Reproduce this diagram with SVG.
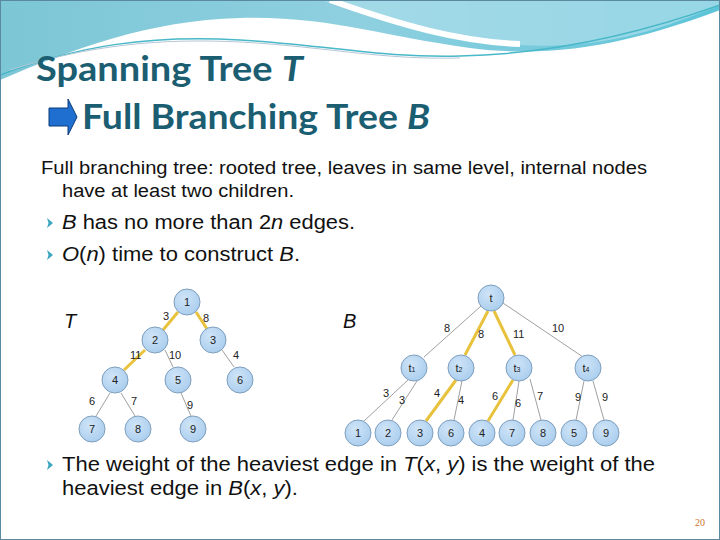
<svg xmlns="http://www.w3.org/2000/svg" width="720" height="540" viewBox="0 0 720 540">
<defs>
<linearGradient id="hg" x1="0" y1="0" x2="1" y2="0">
<stop offset="0" stop-color="#7cc6d6"/><stop offset="0.5" stop-color="#8fd0e0"/><stop offset="1" stop-color="#5cc4d8"/>
</linearGradient>
<radialGradient id="ng" cx="0.4" cy="0.35" r="0.7">
<stop offset="0" stop-color="#cfe4f7"/><stop offset="1" stop-color="#a9cdee"/>
</radialGradient>
<g id="bul"><path d="M0,-5 L6,0 L0,5 L1.5,0 Z" fill="#3aa7be"/></g>
</defs>
<style>
.n{fill:url(#ng);stroke:#7f9fbd;stroke-width:1}
.nt{font-family:"Liberation Sans",Arial,sans-serif;font-size:11px;fill:#222;text-anchor:middle}
.e{stroke:#888;stroke-width:0.8;fill:none}
.y{stroke:#e8c23c;stroke-width:3;fill:none}
.el{font-family:"Liberation Sans",Arial,sans-serif;font-size:11px;fill:#222}
.body{font-family:"Liberation Sans",Arial,sans-serif;fill:#111}
.ttl{font-family:Lato,"Open Sans",sans-serif;font-weight:bold;fill:#1b5e72}
</style>
<rect width="720" height="540" fill="#fff"/>
<path d="M0,0 H720 V10 C640,40 560,60 470,48 C380,36 330,16 240,18 C150,20 70,50 0,80 Z" fill="url(#hg)"/>
<path d="M320,0 C380,20 450,40 520,45 C600,50 660,30 720,5 V0 Z" fill="#a6dbe8" opacity="0.8"/>
<path d="M330,0 C400,25 460,42 520,44" stroke="#fff" stroke-width="6" fill="none"/>
<path d="M0,75 C80,45 150,35 240,40 C330,45 380,58 460,56 C560,54 650,30 720,5" stroke="#48b8c8" stroke-width="1.5" fill="none"/>
<path d="M10,70 C90,45 160,38 240,42 C330,47 380,60 460,58" stroke="#b6c7d6" stroke-width="1" fill="none"/>
<rect x="0.5" y="0.5" width="719" height="539" fill="none" stroke="#5b8aa0"/>
<text class="ttl" x="36" y="81" font-size="34" textLength="267" lengthAdjust="spacingAndGlyphs">Spanning Tree <tspan font-style="italic">T</tspan></text>
<path d="M49,108 H68 V99 L77,117 L68,135 V126 H49 Z" fill="#1f6fd0" stroke="#0d3a78" stroke-width="1"/>
<text class="ttl" x="82" y="129" font-size="34" textLength="348" lengthAdjust="spacingAndGlyphs">Full Branching Tree <tspan font-style="italic">B</tspan></text>
<text class="body" x="41" y="174" font-size="18" textLength="606" lengthAdjust="spacingAndGlyphs">Full branching tree:  rooted tree, leaves in same level, internal nodes</text>
<text class="body" x="62" y="197" font-size="18" textLength="232" lengthAdjust="spacingAndGlyphs">have at least two children.</text>
<use href="#bul" x="47" y="223"/>
<text class="body" x="62" y="229" font-size="20" textLength="293" lengthAdjust="spacingAndGlyphs"><tspan font-style="italic">B</tspan> has no more than 2<tspan font-style="italic">n</tspan> edges.</text>
<use href="#bul" x="47" y="255"/>
<text class="body" x="62" y="261" font-size="20" textLength="238" lengthAdjust="spacingAndGlyphs"><tspan font-style="italic">O</tspan>(<tspan font-style="italic">n</tspan>) time to construct <tspan font-style="italic">B</tspan>.</text>
<text class="body" x="64" y="328" font-size="20" font-style="italic">T</text>
<text class="body" x="343" y="328" font-size="20" font-style="italic">B</text>
<g id="connectors">
<line class="y" x1="178" y1="312" x2="163" y2="330"/>
<line class="y" x1="196" y1="312" x2="207" y2="329"/>
<line class="y" x1="145" y1="350" x2="124" y2="370"/>
<line class="e" x1="165" y1="350" x2="173" y2="367"/>
<line class="e" x1="222" y1="350" x2="234" y2="367"/>
<line class="e" x1="110" y1="393" x2="96" y2="416"/>
<line class="e" x1="121" y1="393" x2="135" y2="416"/>
<line class="e" x1="181" y1="393" x2="191" y2="416"/>
<line class="e" x1="481" y1="306" x2="424" y2="357"/>
<line class="y" x1="488" y1="311" x2="465" y2="355"/>
<line class="y" x1="494" y1="311" x2="515" y2="355"/>
<line class="e" x1="503" y1="303" x2="583" y2="357"/>
<line class="e" x1="408" y1="380" x2="364" y2="421"/>
<line class="e" x1="417" y1="381" x2="392" y2="420"/>
<line class="y" x1="456" y1="380" x2="426" y2="421"/>
<line class="e" x1="462" y1="381" x2="454" y2="420"/>
<line class="y" x1="513" y1="380" x2="488" y2="421"/>
<line class="e" x1="519" y1="381" x2="513" y2="420"/>
<line class="e" x1="530" y1="379" x2="541" y2="420"/>
<line class="e" x1="584" y1="381" x2="576" y2="420"/>
<line class="e" x1="593" y1="381" x2="604" y2="420"/>
</g>
<g>
<text class="el" x="163" y="320">3</text><text class="el" x="203" y="322">8</text>
<text class="el" x="130" y="359">11</text><text class="el" x="169" y="359">10</text><text class="el" x="233" y="359">4</text>
<text class="el" x="89" y="405">6</text><text class="el" x="131" y="405">7</text><text class="el" x="187" y="409">9</text>
<text class="el" x="444" y="332">8</text><text class="el" x="478" y="338">8</text><text class="el" x="513" y="338">11</text><text class="el" x="552" y="332">10</text>
<text class="el" x="383" y="397">3</text><text class="el" x="399" y="404">3</text><text class="el" x="434" y="397">4</text><text class="el" x="458" y="404">4</text>
<text class="el" x="492" y="400">6</text><text class="el" x="515" y="407">6</text><text class="el" x="537" y="400">7</text><text class="el" x="575" y="401">9</text><text class="el" x="602" y="401">9</text>
</g>
<g id="T1"><circle class="n" cx="187" cy="302" r="13"/><text class="nt" x="187" y="306">1</text></g>
<g id="T2"><circle class="n" cx="155" cy="340" r="13"/><text class="nt" x="155" y="344">2</text></g>
<g id="T3"><circle class="n" cx="213" cy="340" r="13"/><text class="nt" x="213" y="344">3</text></g>
<g id="T4"><circle class="n" cx="115" cy="380" r="13"/><text class="nt" x="115" y="384">4</text></g>
<g id="T5"><circle class="n" cx="178" cy="380" r="13"/><text class="nt" x="178" y="384">5</text></g>
<g id="T6"><circle class="n" cx="240" cy="380" r="13"/><text class="nt" x="240" y="384">6</text></g>
<g id="T7"><circle class="n" cx="92" cy="429" r="13"/><text class="nt" x="92" y="433">7</text></g>
<g id="T8"><circle class="n" cx="138" cy="429" r="13"/><text class="nt" x="138" y="433">8</text></g>
<g id="T9"><circle class="n" cx="193" cy="429" r="13"/><text class="nt" x="193" y="433">9</text></g>
<g id="Bt"><circle class="n" cx="491" cy="298" r="13"/><text class="nt" x="491" y="302">t</text></g>
<g id="Bt1"><circle class="n" cx="414" cy="368" r="13"/><text class="nt" x="412" y="372">t<tspan font-size="7">1</tspan></text></g>
<g id="Bt2"><circle class="n" cx="461" cy="368" r="13"/><text class="nt" x="459" y="372">t<tspan font-size="7">2</tspan></text></g>
<g id="Bt3"><circle class="n" cx="519" cy="368" r="13"/><text class="nt" x="517" y="372">t<tspan font-size="7">3</tspan></text></g>
<g id="Bt4"><circle class="n" cx="588" cy="368" r="13"/><text class="nt" x="586" y="372">t<tspan font-size="7">4</tspan></text></g>
<g id="L1"><circle class="n" cx="358" cy="433" r="13"/><text class="nt" x="358" y="437">1</text></g>
<g id="L2"><circle class="n" cx="388" cy="433" r="13"/><text class="nt" x="388" y="437">2</text></g>
<g id="L3"><circle class="n" cx="420" cy="433" r="13"/><text class="nt" x="420" y="437">3</text></g>
<g id="L6"><circle class="n" cx="451" cy="433" r="13"/><text class="nt" x="451" y="437">6</text></g>
<g id="L4"><circle class="n" cx="482" cy="433" r="13"/><text class="nt" x="482" y="437">4</text></g>
<g id="L7"><circle class="n" cx="512" cy="433" r="13"/><text class="nt" x="512" y="437">7</text></g>
<g id="L8"><circle class="n" cx="543" cy="433" r="13"/><text class="nt" x="543" y="437">8</text></g>
<g id="L5"><circle class="n" cx="574" cy="433" r="13"/><text class="nt" x="574" y="437">5</text></g>
<g id="L9"><circle class="n" cx="606" cy="433" r="13"/><text class="nt" x="606" y="437">9</text></g>
<use href="#bul" x="47" y="465"/>
<text class="body" x="62" y="471" font-size="20" textLength="593" lengthAdjust="spacingAndGlyphs">The weight of the heaviest edge in <tspan font-style="italic">T</tspan>(<tspan font-style="italic">x</tspan>, <tspan font-style="italic">y</tspan>) is the weight of the</text>
<text class="body" x="62" y="495" font-size="20" textLength="236" lengthAdjust="spacingAndGlyphs">heaviest edge in <tspan font-style="italic">B</tspan>(<tspan font-style="italic">x</tspan>, <tspan font-style="italic">y</tspan>).</text>
<text x="700" y="526" font-family="Liberation Serif,serif" font-size="10" fill="#d0722a" text-anchor="middle">20</text>
</svg>
